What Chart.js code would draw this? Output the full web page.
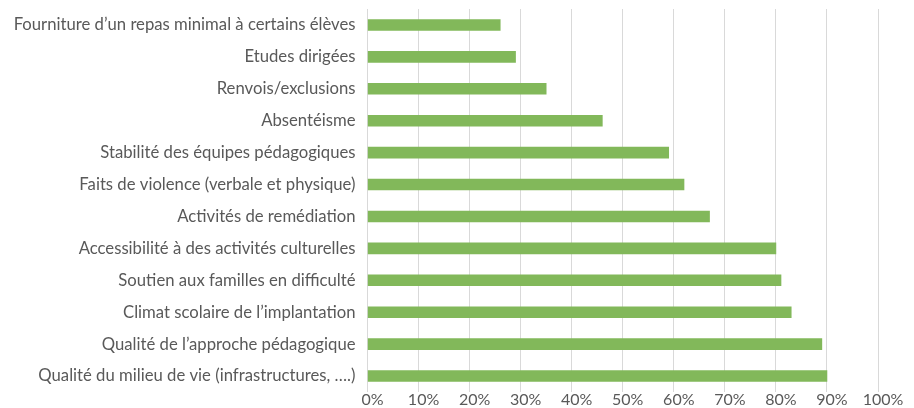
<!DOCTYPE html>
<html>
<head>
<meta charset="utf-8">
<script src="https://cdn.jsdelivr.net/npm/chart.js@4"></script>
<style>
html,body{margin:0;padding:0;background:#fff;}
#wrap{width:914px;height:408px;position:relative;}
</style>
</head>
<body>
<div id="wrap"><canvas id="c"></canvas></div>
<script>
const categories = [
  "Fourniture d’un repas minimal à certains élèves",
  "Etudes dirigées",
  "Renvois/exclusions",
  "Absentéisme",
  "Stabilité des équipes pédagogiques",
  "Faits de violence (verbale et physique)",
  "Activités de remédiation",
  "Accessibilité à des activités culturelles",
  "Soutien aux familles en difficulté",
  "Climat scolaire de l’implantation",
  "Qualité de l’approche pédagogique",
  "Qualité du milieu de vie (infrastructures, ….)"
];
const values = [26, 29, 35, 46, 59, 62, 67, 80, 81, 83, 89, 90];
const xTicks = [0, 10, 20, 30, 40, 50, 60, 70, 80, 90, 100];

new Chart(document.getElementById('c'), {
  type: 'bar',
  data: {
    labels: categories,
    datasets: [{
      data: values,
      backgroundColor: '#82b85a',
      borderWidth: 0,
      barThickness: 11
    }]
  },
  options: {
    indexAxis: 'y',
    responsive: true,
    maintainAspectRatio: false,
    animation: false,
    layout: { padding: 0 },
    plugins: { legend: { display: false }, tooltip: { enabled: false } },
    scales: {
      x: {
        min: 0, max: 100,
        afterBuildTicks: (s) => { s.ticks = xTicks.map(v => ({ value: v })); },
        afterFit: (s) => { s.height = 16; s.paddingLeft = 0; s.paddingRight = 36; },
        ticks: {
          callback: (v) => v + '%',
          color: '#595959',
          font: { family: 'Lato', size: 16, lineHeight: 1 },
          padding: 0,
          labelOffset: 5,
          maxRotation: 0
        },
        grid: { color: '#d9d9d9', lineWidth: 1, drawTicks: false },
        border: { display: false }
      },
      y: {
        afterFit: (s) => { s.width = 367.5; s.paddingTop = 9; s.paddingBottom = 0; },
        ticks: {
          autoSkip: false,
          color: '#595959',
          font: { family: 'Lato', size: 16.7, lineHeight: 1.1 },
          padding: 12
        },
        grid: { display: false, drawTicks: false },
        border: { display: false }
      }
    }
  }
});
</script>
</body>
</html>
